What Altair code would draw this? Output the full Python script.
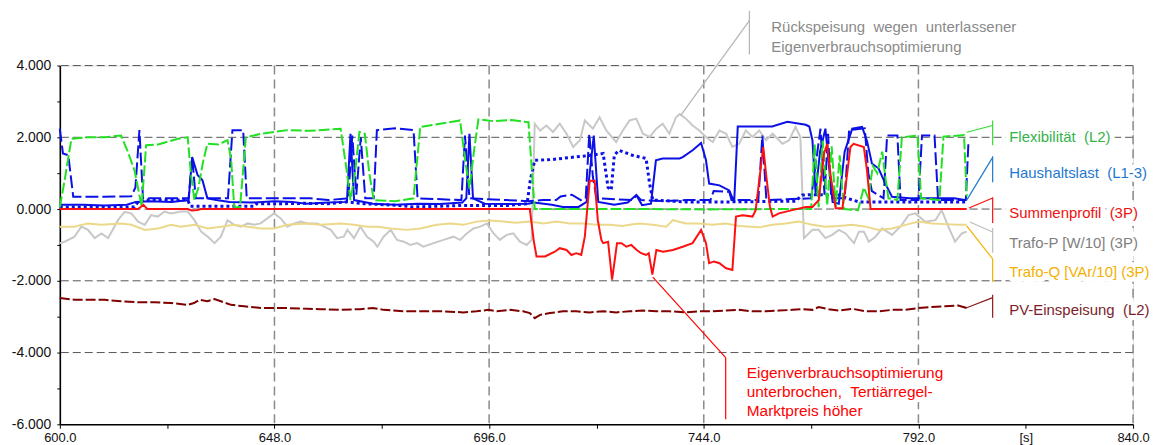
import altair as alt
import pandas as pd

# ---------------- data (time [s], value) ----------------
FLEX_T = [600.0, 601.0, 602.6, 606, 610, 613.7, 615.2, 616.7, 618.3, 619.3, 622, 626.4, 628.6, 629.3, 630.1,
          631.0, 632.0, 633.0, 635.5, 637.5, 638.3, 639.0, 640.3, 641.6, 645, 650.9, 656, 662.8, 664.0, 665.0,
          666.0, 667.0, 668.2, 669.2, 670.2, 675, 679.1, 680.6, 685, 689.5, 690.6, 691.6, 692.6, 693.6, 697,
          701, 704.8, 705.6, 706.2, 715, 730, 745, 760, 768.0, 768.8, 769.7, 770.6, 771.6, 772.6, 773.5,
          774.4, 775.3, 778.5, 779.8, 780.8, 781.8, 782.8, 783.9, 784.6, 785.3, 787.3, 788.3, 791.8, 792.6,
          796.7, 797.6, 802.2, 802.8]
FLEX_V = [0.05, 0.75, 1.96, 2.0, 2.0, 2.05, 1.6, 1.08, 0.08, 1.78, 1.8, 1.96, 2.0, 1.0, 0.25,
          0.6, 1.3, 1.82, 1.8, 1.92, 1.4, 0.06, 0.05, 2.0, 2.1, 2.2, 2.18, 2.24, 1.2, 0.25,
          1.0, 2.15, 2.1, 1.0, 0.25, 0.22, 0.3, 2.29, 2.38, 2.47, 1.4, 0.57, 1.6, 2.5, 2.45,
          2.48, 2.42, 1.0, 0.0, 0.0, 0.0, -0.01, 0.0, 0.0, 1.8, 0.05, 1.9, 0.1, 1.75, 0.05,
          1.5, 0.0, -0.03, 0.6, 0.3, 1.2, 1.0, 1.6, 0.9, 0.3, 0.25, 2.0, 2.05, 0.3,
          0.25, 2.02, 2.06, 0.35]

L1_T = [600.0, 605, 610, 615, 617, 620, 625, 628.8, 629.6, 630.8, 631.9, 633.0, 635, 638, 643, 648, 652, 655,
        660, 664.2, 665.0, 665.8, 670, 675, 680, 685, 690, 690.9, 691.6, 692.4, 695, 700, 704.8, 706, 710,
        712.5, 716, 717.8, 719.4, 720.4, 724, 727, 728.9, 730.2, 732.2, 733.3, 734.8, 738.6, 739.3, 741.5,
        743.4, 744.5, 745.2, 747.5, 749.7, 750.8, 751.6, 755, 759.3, 762.7, 766.8, 767.6, 768.3, 769.0,
        770.0, 771.2, 772.0, 772.8, 774.2, 775.5, 777.2, 779.4, 780.5, 781.6, 783.1, 784.6, 786.1, 790,
        795, 800, 802.4]
L1_V = [0.12, 0.12, 0.1, 0.12, 0.2, 0.22, 0.2, 0.25, 1.45, 0.95, 0.8, 0.3, 0.25, 0.2, 0.18, 0.22, 0.2, 0.15,
        0.18, 0.2, 2.1, 0.25, 0.15, 0.12, 0.15, 0.14, 0.18, 0.3, 2.1, 0.3, 0.15, 0.14, 0.15, 0.18, 0.12,
        0.06, 0.06, 0.2, 2.05, 0.2, 0.12, 0.18, 0.39, 0.11, 0.15, 1.36, 1.41, 1.41, 1.45, 1.64,
        1.84, 1.36, 0.71, 0.66, 0.52, 0.2, 2.3, 2.3, 2.3, 2.43, 2.35, 2.3, 1.92, 0.44,
        1.6, 2.24, 1.2, 0.2, 0.15, 1.6, 2.24, 2.29, 1.9, 1.27, 1.13, 0.71, 0.34, 0.3,
        0.3, 0.3, 0.25]

L2_T = [600.0, 600.7, 601.9, 603.0, 610, 616.0, 616.9, 617.8, 618.6, 622, 628.8, 629.6, 630.4, 637.6, 638.6,
        641.0, 641.8, 650, 656, 660, 664.5, 665.4, 666.3, 667.3, 668.3, 670.2, 670.9, 675, 679.1, 680.0,
        689.8, 690.6, 691.6, 700, 704.8, 708, 711, 712, 714.5, 716.5, 717.6, 718.4, 719.2, 720.0, 728,
        729.0, 730, 735, 740, 745.5, 746.2, 749.7, 750.2, 756.2, 757.1, 758.0, 768.0, 769.3, 770.1, 771.0,
        771.8, 772.5, 775.5, 776.5, 780.0, 780.8, 781.6, 784.2, 785.0, 787.3, 788.0, 792.0, 792.8, 795.6,
        796.4, 802.6, 803.2]
L2_V = [2.24, 1.55, 1.5, 0.34, 0.34, 0.36, 0.6, 2.2, 0.3, 0.3, 0.3, 1.45, 0.3, 0.3, 2.2,
        2.2, 0.3, 0.3, 0.3, 0.25, 0.3, 2.05, 0.4, 2.0, 0.3, 0.3, 2.2, 2.25, 2.2, 0.3,
        0.25, 2.05, 0.3, 0.25, 0.22, 0.25, 0.25, 0.35, 0.4, 0.25, 0.3, 2.1, 0.9, 0.3, 0.25,
        0.38, 0.25, 0.22, 0.25, 0.25, 0.5, 0.48, 0.25, 0.25, 2.05, 0.25, 0.3, 1.5, 2.24, 0.4,
        2.1, 0.3, 0.3, 2.2, 2.25, 1.0, 0.5, 0.3, 2.05, 2.05, 0.25, 0.25, 2.05, 2.05,
        0.25, 0.25, 1.9]

L3_T = [600.0, 608, 616.7, 617.5, 619, 628.6, 629.2, 635, 643.5, 644, 650, 655, 660, 664, 668, 676, 679,
        685, 690, 700, 704.5, 705.2, 706.2, 710, 715, 719, 721.5, 722.6, 723.3, 724.0, 725, 728, 731.1,
        731.9, 732.6, 740, 750, 764.5, 766.0, 768, 774.2, 776, 778.7, 790, 802.8]
L3_V = [0.06, 0.06, 0.06, 0.2, 0.25, 0.25, 0.08, 0.08, 0.08, 0.15, 0.15, 0.16, 0.15, 0.2, 0.15, 0.1, 0.06,
        0.08, 0.1, 0.1, 0.15, 0.8, 1.36, 1.38, 1.45, 1.5, 1.55, 0.6, 0.53, 1.5, 1.64, 1.5, 1.41,
        0.7, 0.25, 0.2, 0.2, 0.22, 0.39, 0.4, 0.39, 0.3, 0.2, 0.2, 0.2]

SUM_T = [600.0, 617.5, 618.7, 619.6, 628.6, 629.5, 630.8, 631.5, 705.1, 706.0, 706.6, 708.5, 710.7, 711.8,
         713.3, 714.4, 715.5, 716.6, 717.4, 718.5, 719.6, 720.3, 721.1, 721.5, 722.6, 723.5, 724.6, 725.6,
         726.7, 727.8, 729, 730, 731.1, 731.7, 732.5, 733.4, 734.9, 737.1, 739.3, 741.5, 743.4, 744.5,
         745.2, 746.3, 747.5, 749.0, 750.4, 751.2, 752.7, 754.9, 755.6, 756.5, 757.3, 758.0, 758.8, 759.4,
         760.8, 763.8, 766.8, 768.3, 769.7, 770.9, 771.6, 772.4, 773.5, 775.0, 775.7, 776.8, 777.5, 779.8,
         780.5, 781.3, 802.8]
SUM_V = [0.0, 0.0, 0.12, 0.0, 0.0, -0.04, -0.03, 0.0, 0.0, -0.9, -1.32, -1.32, -1.19, -1.09,
         -1.14, -1.28, -1.23, -1.28, -0.77, 0.79, 0.79, -0.31, -0.86, -0.95, -0.91, -1.97, -0.95, -0.95,
         -1.05, -1.0, -1.14, -1.23, -1.28, -1.23, -1.83, -1.14, -1.19, -1.14, -1.05, -0.95, -0.58, -0.95,
         -1.51, -1.46, -1.51, -1.65, -1.70, -0.21, -0.17, -0.21, -0.03, 0.9, 1.73, 0.9, 0.06, -0.21,
         -0.12, -0.03, 0.06, 0.06, 0.25, 1.55, 1.82, 0.9, 0.02, 0.02, 0.62, 1.73, 1.82, 1.73,
         1.08, 0.0, 0.0]

TP_T = [600.0, 601.1, 603.3, 604.8, 606.3, 607.8, 609.3, 610.8, 613.0, 614.5, 616.0, 617.5, 619.0, 620.4,
        621.9, 623.4, 624.9, 627.1, 628.6, 630.1, 631.6, 633.1, 634.6, 636.0, 637.5, 639.0, 640.5, 642.0,
        643.5, 644.9, 646.4, 647.9, 649.4, 650.9, 652.4, 653.9, 655.4, 657.6, 659.1, 660.6, 662.0, 663.5,
        664.3, 665.8, 667.2, 668.7, 670.2, 671.0, 672.4, 674.0, 675.4, 676.9, 678.4, 679.9, 681.3, 683.6,
        685.8, 688.0, 689.5, 691.0, 692.5, 694.0, 695.5, 697.0, 698.4, 699.9, 701.4, 702.9, 704.4, 705.5,
        706.2, 707.4, 708.8, 710.3, 711.8, 713.3, 714.8, 716.3, 717.4, 719.2, 720.7, 722.2, 724.4, 725.9,
        727.4, 728.9, 730.4, 731.9, 733.4, 734.8, 736.3, 737.8, 738.6, 740.0, 741.5, 743.0, 744.5, 746.0,
        747.5, 749.0, 750.4, 751.9, 753.4, 754.9, 756.4, 757.9, 759.4, 761.6, 763.1, 764.5, 765.6, 766.4,
        768.3, 769.7, 771.2, 772.7, 774.2, 775.7, 777.6, 778.7, 779.8, 780.9, 782.4, 783.9, 786.1, 788.3,
        789.8, 791.3, 793.5, 795.8, 797.2, 798.7, 800.2, 801.7, 802.8]
TP_V = [-0.95, -0.91, -0.77, -0.49, -0.58, -0.81, -0.68, -0.81, -0.31, -0.08, -0.12, -0.35, -0.44, -0.17,
        -0.21, -0.07, -0.12, -0.07, -0.07, -0.31, -0.63, -0.77, -0.95, -0.77, -0.31, -0.44, -0.49, -0.40,
        -0.44, -0.40, -0.26, -0.12, -0.26, -0.49, -0.40, -0.35, -0.40, -0.40, -0.49, -0.58, -0.81, -0.77,
        -0.58, -0.81, -0.49, -0.77, -0.91, -1.05, -0.77, -0.58, -0.86, -0.91, -1.0, -0.95, -1.05, -0.95,
        -0.86, -0.77, -0.86, -0.68, -0.54, -0.49, -0.40, -0.68, -0.86, -0.72, -0.68, -0.91, -1.0, -0.86,
        2.38, 2.19, 2.33, 2.15, 2.38, 2.10, 1.73, 1.92, 2.47, 2.24, 2.56, 2.19, 1.87, 2.19,
        2.47, 2.52, 2.10, 2.01, 2.24, 2.38, 2.10, 2.56, 2.65, 2.52, 2.33, 2.19, 2.01, 1.87,
        2.19, 2.10, 1.73, 1.82, 2.19, 2.01, 2.19, 1.92, 2.10, 1.82, 1.92, 2.29, 2.01, -0.81,
        -0.58, -0.58, -0.81, -0.72, -0.58, -0.68, -0.95, -0.63, -0.63, -0.91, -0.77, -0.54, -0.72, -0.44,
        -0.17, -0.12, -0.35, -0.31, -0.03, -0.49, -0.91, -0.68, -0.63]

TQ_T = [600.0, 603.3, 604.8, 606.3, 609.3, 613.7, 616.0, 619.0, 622.0, 624.9, 627.1, 630.1, 633.1, 636.0,
        639.0, 642.0, 645.0, 647.9, 650.9, 655.4, 658.3, 662.8, 665.8, 668.7, 671.0, 674.0, 677.6, 680.6,
        684.3, 687.3, 690.2, 693.2, 696.2, 699.2, 702.1, 705.1, 708.1, 711.1, 714.0, 717.0, 720.0, 723.0,
        725.9, 727.4, 729.6, 732.6, 735.6, 737.1, 740.0, 743.0, 746.0, 749.0, 751.9, 756.4, 759.4, 762.3,
        765.3, 768.3, 771.2, 774.2, 777.2, 780.2, 783.1, 786.1, 789.1, 792.0, 795.0, 798.0, 800.9, 802.8]
TQ_V = [-0.49, -0.49, -0.44, -0.40, -0.44, -0.40, -0.44, -0.58, -0.54, -0.44, -0.49, -0.44, -0.54, -0.49,
        -0.44, -0.49, -0.54, -0.54, -0.44, -0.40, -0.44, -0.40, -0.44, -0.49, -0.49, -0.54, -0.58, -0.54,
        -0.44, -0.40, -0.44, -0.35, -0.32, -0.35, -0.38, -0.35, -0.40, -0.35, -0.40, -0.40, -0.44, -0.44,
        -0.47, -0.44, -0.40, -0.44, -0.49, -0.31, -0.40, -0.40, -0.44, -0.40, -0.47, -0.51, -0.44, -0.40,
        -0.35, -0.44, -0.49, -0.47, -0.44, -0.49, -0.58, -0.54, -0.44, -0.35, -0.40, -0.42, -0.44, -0.44]

PV_T = [600.0, 603.3, 606.3, 610.0, 613.7, 617.5, 621.2, 624.9, 628.6, 630.0, 631.2, 633.0, 634.6, 636.0,
        638.3, 641.2, 645.0, 647.9, 651.0, 655.4, 658.3, 662.8, 667.2, 670.0, 672.4, 676.9, 681.3, 685.8,
        690.2, 693.2, 695.8, 697.7, 700.7, 703.6, 705.1, 706.2, 707.4, 709.6, 712.5, 715.5, 718.5, 721.5,
        724.4, 727.4, 730.4, 733.4, 736.3, 740.0, 743.0, 746.0, 749.0, 751.9, 754.9, 757.9, 760.8, 763.8,
        766.0, 768.3, 769.7, 771.9, 774.2, 777.2, 780.2, 783.1, 786.1, 789.0, 792.0, 794.9, 798.0, 800.9,
        802.8]
PV_V = [-2.48, -2.53, -2.53, -2.53, -2.57, -2.60, -2.60, -2.62, -2.67, -2.62, -2.53, -2.57, -2.51, -2.57,
        -2.67, -2.71, -2.76, -2.76, -2.76, -2.78, -2.79, -2.81, -2.79, -2.76, -2.81, -2.85, -2.85, -2.85,
        -2.88, -2.85, -2.81, -2.85, -2.81, -2.85, -2.90, -3.04, -2.95, -2.90, -2.85, -2.85, -2.88, -2.85,
        -2.88, -2.85, -2.83, -2.85, -2.85, -2.88, -2.85, -2.85, -2.83, -2.81, -2.85, -2.85, -2.83, -2.81,
        -2.79, -2.81, -2.73, -2.79, -2.83, -2.78, -2.85, -2.85, -2.81, -2.81, -2.76, -2.73, -2.71, -2.69,
        -2.76]

Y_GRID = [-4, -2, 0, 2, 4]
X_GRID = [648, 696, 744, 792, 840]

LABEL_TEXT = ["Flexibilit\u00e4t\u00a0 (L2)", "Haushaltslast\u00a0 (L1-3)", "Summenprofil\u00a0 (3P)",
              "Trafo-P [W/10] (3P)", "Trafo-Q [VAr/10] (3P)", "PV-Einspeisung\u00a0 (L2)"]
LABEL_COLOR = ["#33b34a", "#1f78d0", "#ee1111", "#808080", "#f5b000", "#7b1e2a"]
LEADER_COLOR = ["#33dd33", "#1f78d0", "#ff1010", "#bdbdbd", "#f5b000", "#8b1a1a"]
LABEL_V = [2.0, 1.0, -0.11, -0.94, -1.75, -2.81]
# leader start (t, v) at series end and end on the bracket; bracket top/bottom
LEAD_T0 = [802.8, 802.8, 803.3, 803.5, 802.8, 802.8]
LEAD_V0 = [2.14, 0.25, 0.03, -0.36, -0.47, -2.75]
LEAD_V1 = [2.33, 1.44, 0.31, -0.64, -1.39, -2.47]
BR_TOP = [2.47, 1.47, 0.33, -0.53, -1.39, -2.39]
BR_BOT = [1.78, 0.75, -0.39, -1.22, -2.03, -3.03]
BR_T = 808.6
LABEL_T = 812.3

NOTE_TOP = ["R\u00fcckspeisung\u00a0 wegen\u00a0 unterlassener", "Eigenverbrauchsoptimierung"]
NOTE_BOT = ["Eigenverbrauchsoptimierung", "unterbrochen,\u00a0 Terti\u00e4rregel-", "Marktpreis h\u00f6her"]

FONT = "Liberation Sans"

# ---------------- chart ----------------
X_ENC = alt.X("t:Q", scale=alt.Scale(domain=[600, 840], nice=False, zero=False),
              axis=alt.Axis(values=list(range(600, 841, 24)), title=None, grid=False,
                            labelExpr="datum.value == 816 ? '[s]' : ((datum.value - 600) % 48 == 0 ? format(datum.value, '.1f') : '')",
                            labelFontSize=13, labelFont=FONT, labelColor="#111111", labelPadding=3,
                            labelFlush=False, labelOverlap=False, tickSize=4, tickColor="#000000",
                            domainColor="#000000", domainWidth=1.6))
Y_ENC = alt.Y("v:Q", scale=alt.Scale(domain=[-6, 4], nice=False, zero=False),
              axis=alt.Axis(values=list(range(-6, 5)), title=None, grid=False,
                            labelExpr="datum.value % 2 == 0 ? (datum.value < 0 ? '-' : '') + format(abs(datum.value), '.3f') : ''",
                            labelFontSize=14, labelFont=FONT, labelColor="#111111", labelPadding=6,
                            labelOverlap=False, tickSize=3, tickColor="#000000",
                            domainColor="#000000", domainWidth=1.6))


def frame(ts, vs):
    return pd.DataFrame({"t": ts, "v": vs})


hgrid = alt.Chart(pd.DataFrame({"v": Y_GRID})).mark_rule(
    color="#555555", strokeWidth=1, strokeDash=[8, 4]).encode(y=Y_ENC)
vgrid = alt.Chart(pd.DataFrame({"t": X_GRID})).mark_rule(
    color="#8a8a8a", strokeWidth=1.5, strokeDash=[9, 5]).encode(x=X_ENC)


def line(ts, vs, color, width=2.0, dash=None):
    kw = dict(color=color, strokeWidth=width)
    if dash:
        kw["strokeDash"] = dash
    return alt.Chart(frame(ts, vs)).mark_line(**kw).encode(x=X_ENC, y=Y_ENC)


grey = line(TP_T, TP_V, "#c8c8c8", 2)
gold = line(TQ_T, TQ_V, "#ecd88a", 2)
pv = line(PV_T, PV_V, "#800000", 2, [10, 3])
l3 = line(L3_T, L3_V, "#0a10e6", 3, [3, 3])
l2 = line(L2_T, L2_V, "#0a10e6", 2, [13, 4])
l1 = line(L1_T, L1_V, "#0a10e6", 2)
flex = line(FLEX_T, FLEX_V, "#22e022", 2, [11, 3])
summ = line(SUM_T, SUM_V, "#ff1010", 2)

# leaders and brackets for series labels
seg_rows = []
for i in range(6):
    seg_rows.append(dict(t=LEAD_T0[i], v=LEAD_V0[i], t2=BR_T, v2=LEAD_V1[i], c=LEADER_COLOR[i]))
    seg_rows.append(dict(t=BR_T, v=BR_TOP[i], t2=BR_T, v2=BR_BOT[i], c=LEADER_COLOR[i]))
# note at the top (grey)
seg_rows.append(dict(t=754.2, v=5.25, t2=738.85, v2=2.61, c="#b4b4b4"))
seg_rows.append(dict(t=754.2, v=5.53, t2=754.2, v2=4.31, c="#b4b4b4"))
# note at the bottom (red)
seg_rows.append(dict(t=732.6, v=-1.90, t2=748.9, v2=-4.14, c="#ff0000"))
seg_rows.append(dict(t=748.9, v=-4.14, t2=748.9, v2=-5.86, c="#ff0000"))
segs = alt.Chart(pd.DataFrame(seg_rows)).mark_rule(strokeWidth=1.2).encode(
    x=X_ENC, y=Y_ENC, x2="t2:Q", y2="v2:Q", color=alt.Color("c:N", scale=None))

txt_rows = []
for i in range(6):
    txt_rows.append(dict(t=LABEL_T, v=LABEL_V[i], s=LABEL_TEXT[i], c=LABEL_COLOR[i], fs=15))
for j, s in enumerate(NOTE_TOP):
    txt_rows.append(dict(t=759.1, v=[5.08, 4.53][j], s=s, c="#8a8a8a", fs=15))
for j, s in enumerate(NOTE_BOT):
    txt_rows.append(dict(t=753.6, v=[-4.56, -5.11, -5.64][j], s=s, c="#ff0000", fs=15.5))
txt_df = pd.DataFrame(txt_rows)
halo = alt.Chart(txt_df).mark_text(
    align="left", baseline="middle", font=FONT, stroke="white", strokeWidth=10,
    strokeJoin="round", color="white").encode(
    x=X_ENC, y=Y_ENC, text="s:N", size=alt.Size("fs:Q", scale=None))
texts = alt.Chart(txt_df).mark_text(
    align="left", baseline="middle", font=FONT).encode(
    x=X_ENC, y=Y_ENC, text="s:N", color=alt.Color("c:N", scale=None), size=alt.Size("fs:Q", scale=None))

chart = alt.layer(hgrid, vgrid, grey, gold, pv, l3, l2, l1, flex, summ, segs, halo, texts).properties(
    width=1077, height=360,
    padding={"left": 52, "top": 57, "right": 20, "bottom": 20},
    autosize=alt.AutoSizeParams(type="none"),
).configure_view(stroke=None).configure(background="white")

chart.save("out.html", embed_options={"renderer": "svg", "actions": False})
